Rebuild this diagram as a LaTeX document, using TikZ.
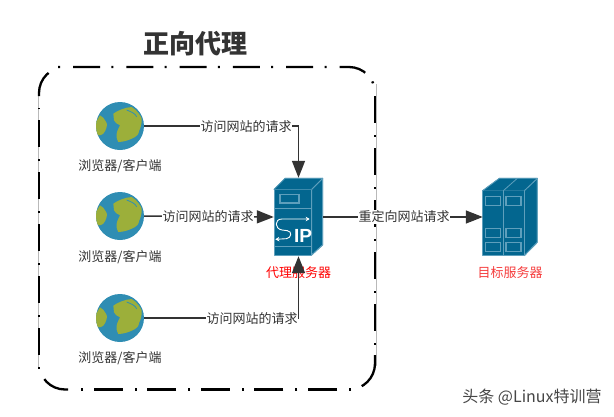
\documentclass[tikz,border=0pt]{standalone}
\usepackage{fontspec}
\setmainfont{Noto Sans CJK SC}
\setsansfont{Liberation Sans}
\usetikzlibrary{arrows.meta}
\definecolor{srv}{HTML}{03668F}
\definecolor{srvedge}{HTML}{5E9FBC}
\definecolor{ocean}{HTML}{2F8DB3}
\definecolor{land}{HTML}{9CAF3A}
\definecolor{ink}{HTML}{333333}
\tikzset{
  conn/.style={draw=ink,line width=1.5pt},
  arr/.style={conn,-{Triangle[length=17pt,width=13pt]}},
  elabel/.style={fill=white,inner sep=0.5pt,font=\fontsize{13}{13}\selectfont,text=ink},
  glabel/.style={inner sep=0pt,font=\fontsize{13}{13}\selectfont,text=ink},
  slabel/.style={inner sep=0pt,font=\fontsize{13}{13}\selectfont},
  holder/.style={inner sep=0pt,minimum width=#1},
  face/.style={fill=srv,draw=srvedge,line width=0.8pt,line join=round},
  slot/.style={draw=srvedge,line width=1.1pt},
  frameline/.style={black,line width=2.3pt},
  framehair/.style={draw={rgb,255:red,185;green,185;blue,185},line width=0.6pt},
  globe/.pic={
    \begin{scope}[x=0.3333pt,y=-0.3333pt]
      \fill[ocean] (0,0) circle (72);
      \clip (0,0) circle (72);
      \fill[land] (-20,-37) .. controls (-8,-46) and (15,-56) .. (35,-57)
        .. controls (50,-48) and (62,-32) .. (65,-22)
        .. controls (66,-8) and (62,5) .. (58,13)
        .. controls (55,25) and (52,30) .. (45,33)
        .. controls (30,42) and (10,48) .. (-5,48)
        .. controls (-10,38) and (-12,30) .. (-10,23)
        .. controls (-8,12) and (-3,5) .. (0,-2)
        .. controls (-8,-6) and (-16,-10) .. (-18,-17) -- cycle;
      \fill[land] (-72,-12) -- (-60,-32)
        .. controls (-52,-28) and (-47,-22) .. (-45,-17)
        .. controls (-38,-8) and (-38,-2) .. (-40,3)
        .. controls (-42,12) and (-46,18) .. (-50,23)
        .. controls (-55,27) and (-60,29) .. (-65,28) -- (-75,10) -- cycle;
      \draw[ocean,line width=0.8pt] (20,-48) .. controls (35,-42) and (45,-38) .. (50,-28);
    \end{scope}
  }
}
\begin{document}
\begin{tikzpicture}[x=1pt,y=-1pt]
\useasboundingbox (0,0) rectangle (614,416);
% frame: thin hairlines on the sides, then the dash-dot pieces
\draw[framehair] (376.3,84) -- (376.3,366);
\draw[framehair] (37.9,95) -- (37.9,369);
% top, from the dot after the top-left corner round to the top-right corner
\draw[frameline,rounded corners=26pt,dash pattern=on 2pt off 13pt on 27pt off 11.3pt]
  (58,67) -- (375,67) -- (375,92);
% right side
\draw[frameline,dash pattern=on 27pt off 12pt on 2pt off 11pt] (375,96) -- (375,345);
% bottom-right corner
\draw[frameline,rounded corners=26pt,dash pattern=on 36pt off 100pt] (375,355) -- (375,389.5) -- (345,389.5);
% bottom
\draw[frameline,dash pattern=on 2pt off 12pt on 29pt off 10.6pt] (351,389.5) -- (79,389.5);
% bottom-left corner
\draw[frameline,rounded corners=26pt,dash pattern=on 27pt off 100pt] (68,389.5) -- (39,389.5) -- (39,365);
% left side
\draw[frameline,dash pattern=on 2pt off 12pt on 27pt off 11pt] (39,369) -- (39,108);
% top-left corner
\draw[frameline,rounded corners=26pt,dash pattern=on 26pt off 100pt] (39,96) -- (39,67) -- (68,67);
\node[inner sep=0pt,font=\fontsize{26}{26}\selectfont\bfseries,text=ink] (title) at (195.5,44) {正向代理};
% globes
\foreach \n/\yy/\ly in {g1/126/166,g2/216/257,g3/318/358}{
  \pic at (120,\yy) {globe};
  \node[circle,inner sep=0pt,minimum size=48pt] (\n) at (120,\yy) {};
  \node[glabel] (\n l) at (120,\ly) {浏览器/客户端};
}
% proxy server
\begin{scope}[shift={(250,165)},x=0.3333pt,y=-0.3333pt]
  \fill[face] (72,73) -- (105,40) -- (218,40) -- (185,73) -- cycle;
  \fill[face] (185,73) -- (218,40) -- (218,240) -- (185,270) -- cycle;
  \draw[face] (72,73) rectangle (185,270);
  \draw[face] (72,73) -- (105,40) -- (218,40) -- (185,73);
  \draw[face,fill=none] (185,270) -- (218,240) -- (218,40);
  \draw[slot] (90,89) rectangle (147,114);
  \draw[slot,line width=0.7pt] (72,130) -- (185,130);
  \draw[slot,line width=0.7pt] (72,243) -- (185,243);
  \draw[white,line width=0.9pt,{Stealth[length=4pt,width=4.5pt]}-{Stealth[length=4pt,width=4.5pt]}]
     (76,223) -- (110,221) .. controls (124,218) and (128,200) .. (112,197)
     -- (96,195) .. controls (74,192) and (72,162) .. (96,162) -- (179,162);
  \node[white,inner sep=0pt,font=\sffamily\bfseries\fontsize{19}{19}\selectfont] (iptext) at (159,214) {IP};
\end{scope}
\node[holder=49pt,minimum height=78pt] (proxy) at (298.5,217) {};
\node[slabel,text=red] (proxyl) at (298.5,273) {代理服务器};
% target server
\begin{scope}[shift={(460,165)},x=0.3333pt,y=-0.3333pt]
  \fill[face] (68,77) -- (118,40) -- (232,40) -- (193,77) -- cycle;
  \fill[face] (193,77) -- (232,40) -- (232,232) -- (193,272) -- cycle;
  \draw[face] (68,77) rectangle (193,272);
  \draw[face] (68,77) -- (118,40) -- (232,40) -- (193,77);
  \draw[face,fill=none] (193,272) -- (232,232) -- (232,40);
  \draw[srvedge,line width=0.8pt] (130,77) -- (130,272);
  \draw[srvedge,line width=0.8pt] (130,77) -- (172,40);
  \foreach \yy in {95,190,232}{
    \draw[slot] (77,\yy) rectangle (122,\yy+27);
    \draw[slot] (138,\yy) rectangle (183,\yy+27);
  }
\end{scope}
\node[holder=54pt,minimum height=78pt] (target) at (510,217) {};
\node[slabel,text={rgb,255:red,245;green,60;blue,60}] (targetl) at (510,273) {目标服务器};
% connectors
\draw[arr] (g1.east) -| (proxy.north);
\draw[arr] (g2.east) -- (proxy.west);
\draw[arr] (g3.east) -| (proxy.south);
\draw[arr] (proxy.east) -- (target.west);
\node[elabel] (l1) at (246,127) {访问网站的请求};
\node[elabel] (l2) at (208,217) {访问网站的请求};
\node[elabel] (l3) at (252,319) {访问网站的请求};
\node[elabel] (l4) at (404,217) {重定向网站请求};
% watermark
\node[inner sep=0pt,text={rgb,255:red,70;green,70;blue,70},font=\fontsize{16}{16}\selectfont] (wm) at (532,397) {头条 @Linux特训营};
\end{tikzpicture}
\end{document}
